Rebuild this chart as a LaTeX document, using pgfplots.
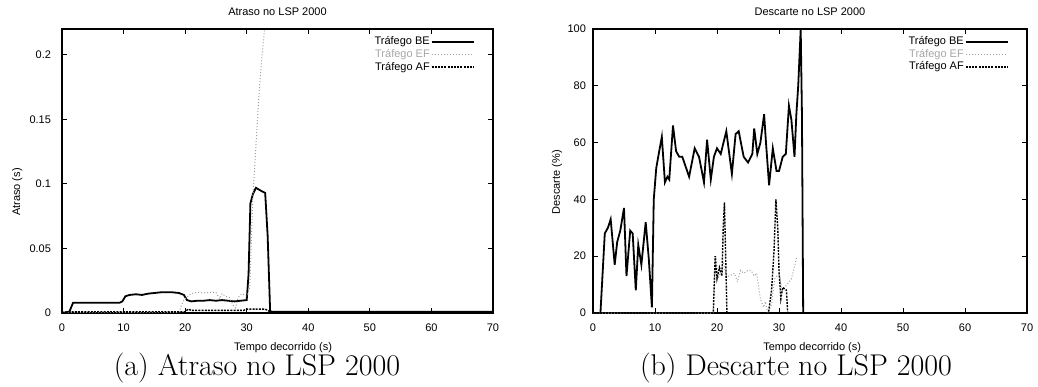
\documentclass[border=0pt]{standalone}
\usepackage{fontspec}
\newfontfamily\sffont{Liberation Sans}
\usepackage{pgfplots}
\pgfplotsset{compat=1.18}

\pgfplotstableread{
x y
0 0
1.2 0.001
1.8 0.008
9.4 0.008
9.8 0.009
10.3 0.013
11 0.014
12 0.0145
13 0.014
14 0.015
15 0.0155
16 0.016
17 0.016
18 0.016
19 0.0155
19.8 0.014
20.3 0.010
21 0.009
22 0.0095
23 0.0095
24 0.010
25 0.0095
26 0.010
27 0.0095
28 0.009
29 0.0095
30 0.010
30.3 0.030
30.6 0.085
31 0.092
31.5 0.097
32.2 0.095
33 0.093
33.4 0.060
33.8 0.002
34 0.001
70 0.001
}\atrasoBE

\pgfplotstableread{
x y
0 0.0005
19 0.0005
19.4 0.006
19.8 0.010
20.5 0.013
21 0.015
22 0.016
23 0.0155
24 0.016
25 0.016
25.6 0.011
26 0.015
26.5 0.013
27.2 0.012
27.8 0.006
28.2 0.004
28.6 0.012
29.2 0.015
30 0.013
30.5 0.020
31 0.090
31.5 0.130
32 0.170
32.5 0.200
33 0.225
33.2 0.240
}\atrasoEF

\pgfplotstableread{
x y
0 0.0005
1.5 0.001
20 0.001
20.5 0.003
21 0.002
25 0.002
29.5 0.002
30 0.003
33 0.003
33.8 0.001
70 0.001
}\atrasoAF

\pgfplotstableread{
x y
0 0
1.2 0
1.9 28
2.4 30
2.85 33
3.5 17
3.9 25
4.4 29
5.0 37
5.4 13
6.0 29
6.4 28
6.9 8
7.3 24
7.8 17
8.5 32
9.0 19
9.5 2
9.8 40
10.2 51
10.6 56
11.1 62
11.6 46
12.0 48
12.3 47
12.9 66
13.4 57
13.9 55
14.4 55
15.5 48
16.4 58
17.1 55
17.9 46
18.4 61
19.0 47
19.5 55
20.0 58
20.6 56
21.5 64
22.4 49
23.0 63
23.5 64
24.3 55
25.0 53
25.7 56
26.0 65
26.5 56
27.0 60
27.6 70
27.9 60
28.4 45
29.0 58
29.6 50
30.0 50
30.6 55
31.1 56
31.6 73
32.0 68
32.5 55
32.8 70
33.1 80
33.5 100
33.7 70
33.9 0
70 0
}\descBE

\pgfplotstableread{
x y
0 0
19.4 0
19.8 20
20.2 12
20.6 15
21.0 18
21.5 13
22.0 13
22.8 14
23.3 11
23.8 15
24.3 14
25.0 15
25.5 15
26.0 13
26.4 14
27.0 5
27.5 2
27.8 4
28.2 0
28.8 3
29.3 12
30.0 14
30.5 8
31.3 10
32.0 12
32.9 20
}\descEF

\pgfplotstableread{
x y
0 0
19.4 0
19.7 20
20.0 12
20.4 16
20.8 13
21.0 30
21.2 39
21.6 0
28.3 0
28.8 8
29.2 22
29.5 40
29.8 30
30.0 15
30.3 5
30.6 9
31.2 8
31.4 0
70 0
}\descAF

\pgfplotsset{
 gp/.style={
  scale only axis, height=142pt,
  xmin=0, xmax=70, xtick={0,10,...,70},
  font=\sffont\fontsize{5.5}{6.5}\selectfont,
  /pgf/number format/assume math mode=true,
  tick align=inside, major tick length=2.5pt,
  tick style={black, line width=0.5pt},
  axis line style={line width=0.7pt},
  title style={at={(0.5,1)}, anchor=center, yshift=2.5pt},
  xticklabel style={yshift=-2pt},
  legend cell align=right,
  legend plot pos=right,
  legend style={at={(1,1)}, anchor=north east, xshift=-6pt, yshift=-1pt,
    draw=none, fill=none,
    nodes={inner sep=0.5pt, text height=4.2pt, text depth=1.1pt}},
  legend image code/.code={\draw[##1] (0pt,0pt) -- (21pt,0pt);},
 },
 be/.style={black, line width=0.9pt},
 ef/.style={gray!75, line width=0.5pt, densely dotted},
 af/.style={black, line width=0.7pt, dash pattern=on 1pt off 0.6pt},
}

\begin{document}
\begin{tikzpicture}
\useasboundingbox (0,0) rectangle (519pt,193pt);
\begin{axis}[gp,
  at={(31pt,36.5pt)}, anchor=south west, width=215.5pt,
  ymin=0, ymax=0.22,
  ytick={0,0.05,0.1,0.15,0.2},
  yticklabels={0,0.05,0.1,0.15,0.2},
  scaled y ticks=false,
  yticklabel style={xshift=-2pt},
  title={Atraso no LSP 2000},
  xlabel={Tempo decorrido (s)},
  xlabel style={at={(axis description cs:0.513,0)}, anchor=center, yshift=-17.5pt},
  ylabel={Atraso (s)},
  ylabel style={at={(axis description cs:-0.104,0.426)}, anchor=center},
]
\addplot[be] table[x=x,y=y] {\atrasoBE};
\addlegendentry{Tráfego BE}
\addplot[ef] table[x=x,y=y] {\atrasoEF};
\addlegendentry{\textcolor{gray!70}{Tráfego EF}}
\addplot[af] table[x=x,y=y] {\atrasoAF};
\addlegendentry{Tráfego AF}
\end{axis}

\begin{axis}[gp,
  at={(296.5pt,36.5pt)}, anchor=south west, width=217pt,
  ymin=0, ymax=100,
  ytick={0,20,...,100},
  yticklabel style={xshift=0pt},
  title={Descarte no LSP 2000},
  xlabel={Tempo decorrido (s)},
  xlabel style={at={(axis description cs:0.505,0)}, anchor=center, yshift=-17.5pt},
  ylabel={Descarte (\%)},
  ylabel style={at={(axis description cs:-0.083,0.46)}, anchor=center},
]
\addplot[be] table[x=x,y=y] {\descBE};
\addlegendentry{Tráfego BE}
\addplot[ef] table[x=x,y=y] {\descEF};
\addlegendentry{\textcolor{gray!70}{Tráfego EF}}
\addplot[af] table[x=x,y=y] {\descAF};
\addlegendentry{Tráfego AF}
\end{axis}

\node[anchor=base, font=\fontsize{15}{18}\selectfont] at (128.5pt,5.5pt) {(a) Atraso no LSP 2000};
\node[anchor=base, font=\fontsize{15}{18}\selectfont] at (398pt,5.5pt) {(b) Descarte no LSP 2000};
\end{tikzpicture}
\end{document}
